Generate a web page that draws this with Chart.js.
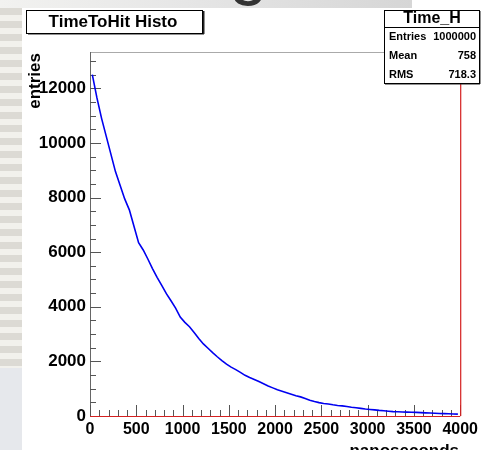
<!DOCTYPE html>
<html>
<head>
<meta charset="utf-8">
<script src="https://cdn.jsdelivr.net/npm/chart.js@4/dist/chart.umd.min.js"></script>
<style>
  html, body { margin: 0; padding: 0; background: #fff; }
  #wrap { position: absolute; left: 0; top: 0; width: 482px; height: 450px; }
</style>
</head>
<body>
<div id="wrap"><canvas id="myChart"></canvas></div>
<script>
// histogram TimeToHit, read every 50 ns
const BIN_WIDTH = 50;
const counts = [
  12500, 11650, 10900, 10250, 9600, 8950, 8450, 7950, 7550, 6950,
  6350, 6080, 5750, 5400, 5080, 4780, 4480, 4220, 3950, 3620,
  3430, 3270, 3060, 2840, 2640, 2480, 2320, 2170, 2030, 1900,
  1790, 1700, 1600, 1490, 1410, 1340, 1260, 1180, 1100, 1030,
  960, 910, 855, 800, 745, 700, 640, 580, 530, 490,
  460, 440, 410, 385, 370, 345, 320, 300, 280, 255,
  240, 225, 205, 190, 175, 162, 155, 148, 142, 137,
  132, 125, 115, 108, 100, 92, 86, 80, 74, 70
];
const xRange = [0, 4000];
const yRange = [0, 13330];
const xTicks = [0, 500, 1000, 1500, 2000, 2500, 3000, 3500, 4000];
const yTicks = [0, 2000, 4000, 6000, 8000, 10000, 12000];
const histTitle = "TimeToHit Histo";
const statsName = "Time_H";
const statsLabels = ["Entries", "Mean", "RMS"];
const statsValues = ["1000000", "758", "718.3"];
const xTitle = "nanoseconds";
const yTitle = "entries";

Chart.defaults.font.family = "'Liberation Sans', Arial, sans-serif";

// one point in the middle of each bin
let points = counts.map((c, i) => ({ x: i * BIN_WIDTH + BIN_WIDTH / 2, y: c }));

const bgPlugin = {
  id: "bg",
  beforeDraw(chart) {
    const ctx = chart.ctx;
    ctx.save();
    ctx.fillStyle = "#fff";
    ctx.fillRect(0, 0, chart.width, chart.height);
    // bits of the slide behind the canvas
    let g = ctx.createLinearGradient(0, 0, 412, 0);
    g.addColorStop(0, "#f2f2f0");
    g.addColorStop(0.45, "#e6e6e6");
    g.addColorStop(1, "#d6d6d6");
    ctx.fillStyle = g;
    ctx.fillRect(0, 0, 412, 8);
    ctx.beginPath();
    ctx.rect(0, 0, 412, 8);
    ctx.clip();
    ctx.fillStyle = "#333";
    ctx.font = "70px 'Liberation Sans', Arial, sans-serif";
    ctx.fillText("g", 229, -9);
    ctx.restore();
    ctx.save();
    for (let y = 8; y < 368; y += 13) {
      ctx.fillStyle = "#dcdad4";
      ctx.fillRect(0, y, 22, 7);
      ctx.fillStyle = "#f2f1ec";
      ctx.fillRect(0, y + 7, 22, 6);
    }
    ctx.fillStyle = "#e6e8ec";
    ctx.fillRect(0, 368, 22, 82);
    ctx.restore();
  },
  beforeDatasetsDraw(chart) {
    const ctx = chart.ctx;
    const a = chart.chartArea;
    const xs = chart.scales.x, ys = chart.scales.y;
    ctx.save();
    // frame
    ctx.lineWidth = 1;
    ctx.strokeStyle = "#aaa";
    ctx.beginPath();
    ctx.moveTo(a.left, a.top + 0.5);
    ctx.lineTo(a.right, a.top + 0.5);
    ctx.stroke();
    ctx.strokeStyle = "#666";
    ctx.beginPath();
    ctx.moveTo(a.left + 0.5, a.top);
    ctx.lineTo(a.left + 0.5, a.bottom);
    ctx.stroke();
    // ticks x (minor every 100)
    ctx.strokeStyle = "#555";
    for (let v = xRange[0]; v <= xRange[1]; v += 100) {
      const px = Math.round(xs.getPixelForValue(v)) + 0.5;
      const len = xTicks.includes(v) ? 11 : 6;
      ctx.beginPath();
      ctx.moveTo(px, a.bottom);
      ctx.lineTo(px, a.bottom - len);
      ctx.stroke();
    }
    // ticks y (minor every 500)
    for (let v = yRange[0]; v <= yRange[1]; v += 500) {
      const py = Math.round(ys.getPixelForValue(v)) + 0.5;
      const len = yTicks.includes(v) ? 11 : 6;
      ctx.beginPath();
      ctx.moveTo(a.left, py);
      ctx.lineTo(a.left + len, py);
      ctx.stroke();
    }
    ctx.restore();
  },
  afterDraw(chart) {
    const ctx = chart.ctx;
    const a = chart.chartArea;
    ctx.save();
    // red outline bottom/right
    ctx.strokeStyle = "#d42020";
    ctx.lineWidth = 1.2;
    ctx.beginPath();
    ctx.moveTo(a.left, a.bottom + 0.5);
    ctx.lineTo(a.right, a.bottom + 0.5);
    ctx.moveTo(a.right + 0.5, a.top);
    ctx.lineTo(a.right + 0.5, a.bottom);
    ctx.stroke();

    // title box
    ctx.fillStyle = "#fff";
    ctx.fillRect(27, 10, 176, 23);
    ctx.fillStyle = "#222";
    ctx.fillRect(203, 11, 1.5, 23);
    ctx.fillRect(28, 33, 176, 1.5);
    ctx.strokeStyle = "#000";
    ctx.lineWidth = 1;
    ctx.strokeRect(26.5, 10.5, 176, 23);
    ctx.fillStyle = "#000";
    ctx.font = "bold 17px 'Liberation Sans', Arial, sans-serif";
    ctx.textAlign = "center";
    ctx.textBaseline = "middle";
    ctx.fillText(histTitle, 113, 22.5);

    // stats box
    ctx.fillStyle = "#fff";
    ctx.fillRect(384, 10, 95, 73);
    ctx.fillStyle = "#222";
    ctx.fillRect(479, 11, 1.5, 73);
    ctx.fillRect(385, 83, 95, 1.5);
    ctx.strokeRect(384.5, 10.5, 95, 73);
    ctx.beginPath();
    ctx.moveTo(384.5, 27.5);
    ctx.lineTo(479.5, 27.5);
    ctx.stroke();
    ctx.fillStyle = "#000";
    ctx.font = "bold 16px 'Liberation Sans', Arial, sans-serif";
    ctx.fillText(statsName, 432, 19);
    ctx.font = "bold 11px 'Liberation Sans', Arial, sans-serif";
    const rowY = [37, 56, 75];
    for (let i = 0; i < statsLabels.length; i++) {
      ctx.textAlign = "left";
      ctx.fillText(statsLabels[i], 389, rowY[i]);
      ctx.textAlign = "right";
      ctx.fillText(statsValues[i], 476, rowY[i]);
    }

    // axis titles
    ctx.font = "bold 17px 'Liberation Sans', Arial, sans-serif";
    ctx.textAlign = "right";
    ctx.textBaseline = "top";
    ctx.fillText(xTitle, 459, 443);
    ctx.translate(35, a.top + 1);
    ctx.rotate(-Math.PI / 2);
    ctx.textAlign = "right";
    ctx.textBaseline = "middle";
    ctx.fillText(yTitle, 0, 0);
    ctx.restore();
  }
};

const config = {
  type: "line",
  data: {
    datasets: [{
      label: statsName,
      data: points,
      borderColor: "#0000f0",
      borderWidth: 1.6,
      pointRadius: 0,
      tension: 0,
      fill: false
    }]
  },
  options: {
    responsive: true,
    maintainAspectRatio: false,
    animation: false,
    layout: { padding: { top: 52, right: 20, left: 0, bottom: 0 } },
    plugins: { legend: { display: false }, tooltip: { enabled: false } },
    scales: {
      x: {
        type: "linear",
        min: xRange[0],
        max: xRange[1],
        grid: { display: false, drawTicks: false },
        border: { display: false },
        afterBuildTicks: function (s) {
          s.ticks = xTicks.map(v => ({ value: v }));
        },
        ticks: {
          autoSkip: false,
          color: "#000",
          padding: 4,
          maxRotation: 0,
          font: { size: 16, weight: "bold" },
          callback: v => String(v)
        },
        afterFit: function (s) { s.height = 34; }
      },
      y: {
        type: "linear",
        min: yRange[0],
        max: yRange[1],
        grid: { display: false, drawTicks: false },
        border: { display: false },
        afterBuildTicks: function (s) {
          s.ticks = yTicks.map(v => ({ value: v }));
        },
        ticks: {
          autoSkip: false,
          color: "#000",
          padding: 4,
          font: { size: 17, weight: "bold" },
          callback: v => String(v)
        },
        afterFit: function (s) { s.width = 90; }
      }
    }
  },
  plugins: [bgPlugin]
};

const chart = new Chart(document.getElementById("myChart"), config);
</script>
</body>
</html>
